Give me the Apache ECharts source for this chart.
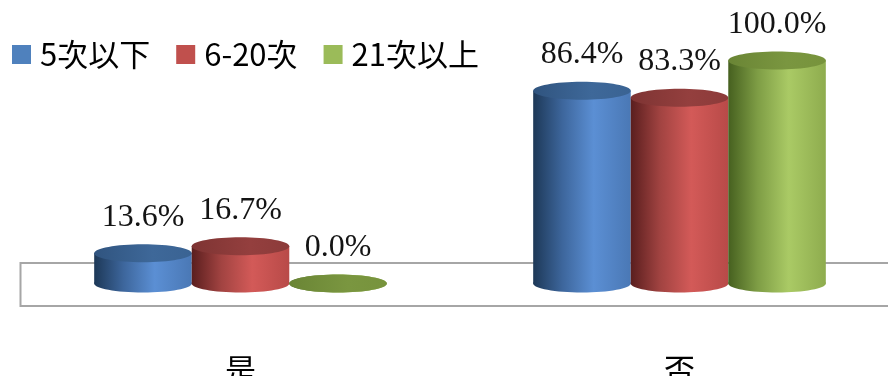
<!DOCTYPE html>
<html>
<head>
<meta charset="utf-8">
<script src="https://cdn.jsdelivr.net/npm/echarts@6/dist/echarts.min.js"></script>
<style>
  html, body { margin: 0; padding: 0; background: #fff; }
  #chart { width: 888px; height: 376px; }
</style>
</head>
<body>
<div id="chart"></div>
<script>
// Categories and series values (percent)
const categories = ['是', '否'];
const seriesNames = ['5次以下', '6-20次', '21次以上'];
const lowFreq = [13.6, 86.4];   // 5次以下
const midFreq = [16.7, 83.3];   // 6-20次
const highFreq = [0.0, 100.0];  // 21次以上

// Cylinder shading per series: side gradient stops and top cap colour
const shades = [
  { base: '#4f81bd', side: ['#1d3857', '#3d669c', '#5b8fd4', '#4a78b5'], cap: ['#30547f', '#3e6899', '#3a6393'] },
  { base: '#c0504d', side: ['#5a1e1e', '#a14341', '#d35a58', '#b84a48'], cap: ['#7e3433', '#943f3e', '#8c3b3a'] },
  { base: '#9bbb59', side: ['#46601f', '#7e9d45', '#aaca65', '#8eac4e'], cap: ['#6a8535', '#7a9640', '#77933c'] }
];

function sideGradient(s) {
  return {
    type: 'linear', x: 0, y: 0, x2: 1, y2: 0,
    colorStops: [
      { offset: 0, color: s[0] },
      { offset: 0.3, color: s[1] },
      { offset: 0.62, color: s[2] },
      { offset: 1, color: s[3] }
    ]
  };
}
function capGradient(s) {
  return {
    type: 'linear', x: 0, y: 0, x2: 1, y2: 0,
    colorStops: [
      { offset: 0, color: s[0] },
      { offset: 0.6, color: s[1] },
      { offset: 1, color: s[2] }
    ]
  };
}

function renderCylinder(params, api) {
  const cat = api.value(0);
  const val = api.value(1);
  const top = api.coord([cat, val]);
  const base = api.coord([cat, 0]);
  const band = api.size([1, 0])[0];
  const w = band * 0.2222;
  const cx = top[0] + (params.seriesIndex - 1) * w;
  const rx = w / 2;
  const ry = 9;
  const sh = shades[params.seriesIndex];
  const children = [];
  if (base[1] - top[1] > 0.5) {
    children.push({
      type: 'rect',
      shape: { x: cx - rx, y: top[1], width: w, height: base[1] - top[1] },
      style: { fill: sideGradient(sh.side) }
    });
  }
  children.push({
    type: 'ellipse',
    shape: { cx: cx, cy: base[1], rx: rx, ry: ry },
    style: { fill: sideGradient(sh.side) }
  });
  children.push({
    type: 'ellipse',
    shape: { cx: cx, cy: top[1], rx: rx, ry: ry },
    style: { fill: capGradient(sh.cap) }
  });
  children.push({
    type: 'text',
    style: {
      text: val.toFixed(1) + '%',
      x: cx,
      y: top[1] - 36,
      align: 'center',
      verticalAlign: 'middle',
      fontSize: 32,
      fontFamily: '"Liberation Serif", "Times New Roman", serif',
      fill: '#141414'
    }
  });
  return { type: 'group', children: children };
}

function toPairs(arr) {
  return arr.map(function (v, i) { return [i, v]; });
}

const seriesData = [lowFreq, midFreq, highFreq];

const chart = echarts.init(document.getElementById('chart'));
chart.setOption({
  animation: false,
  backgroundColor: '#fff',
  legend: {
    left: 7,
    top: 34,
    itemWidth: 19,
    itemHeight: 19,
    itemGap: 26,
    icon: 'rect',
    data: seriesNames,
    textStyle: {
      fontSize: 31,
      fontFamily: '"Noto Sans CJK TC", "Noto Sans", sans-serif',
      color: '#000',
      padding: [0, 0, 0, 4]
    }
  },
  grid: { left: 21, top: 60.5, bottom: 92.5, width: 878, outerBoundsMode: 'none', containLabel: false },
  xAxis: {
    type: 'category',
    data: categories,
    boundaryGap: true,
    axisLine: { show: false },
    axisTick: { show: false },
    axisLabel: {
      margin: 70,
      fontSize: 31,
      fontFamily: '"Noto Sans CJK TC", sans-serif',
      color: '#000'
    }
  },
  yAxis: { type: 'value', min: 0, max: 100, show: false },
  graphic: [{
    type: 'rect',
    z: -10,
    shape: { x: 20.5, y: 263, width: 900, height: 43 },
    style: { fill: '#fff', stroke: '#a6a6a6', lineWidth: 2 }
  }],
  series: seriesData.map(function (d, i) {
    return {
      name: seriesNames[i],
      type: 'custom',
      renderItem: renderCylinder,
      encode: { x: 0, y: 1 },
      itemStyle: { color: shades[i].base },
      data: toPairs(d),
      z: 2
    };
  })
});
</script>
</body>
</html>
